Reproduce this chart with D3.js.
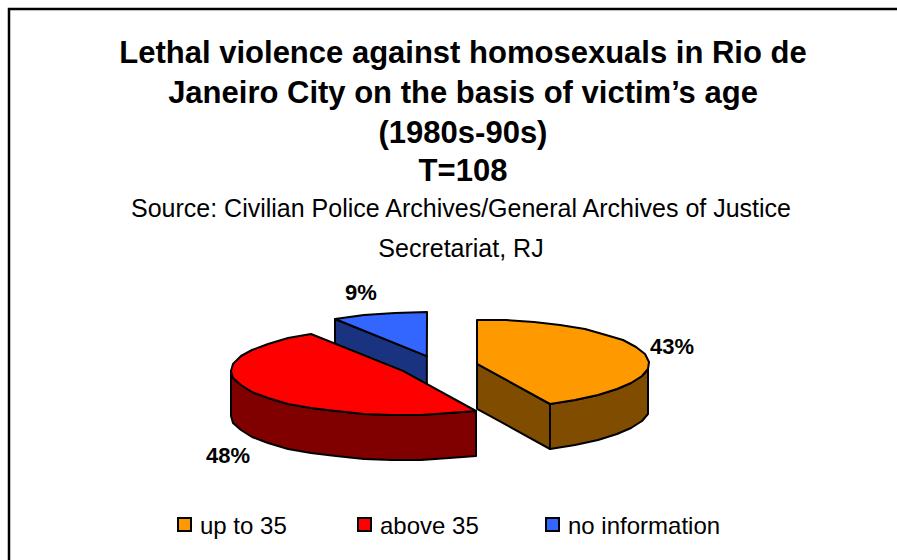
<!DOCTYPE html>
<html><head><meta charset="utf-8">
<script src="https://cdn.jsdelivr.net/npm/d3@7"></script>
<style>html,body{margin:0;padding:0;background:#fff}svg{display:block}text{font-family:"Liberation Sans",Arial,sans-serif;fill:#000}</style>
</head><body><svg id="c" width="897" height="560"></svg>
<script>
const categories = ["up to 35","above 35","no information"];
const values = [43,48,9];
const valueLabels = ["43%","48%","9%"];
const topColors = ["#FF9900","#FF0000","#3366FF"];
const sideColors = ["#804D00","#800000","#1A3380"];
const titleLines = ["Lethal violence against homosexuals in Rio de","Janeiro City on the basis of victim’s age","(1980s-90s)","T=108"];
const sourceLines = ["Source: Civilian Police Archives/General Archives of Justice","Secretariat, RJ"];

const svg = d3.select("#c");
svg.append("path").attr("d","M9,560V9H897").attr("fill","none").attr("stroke","#000").attr("stroke-width",2.5);

const titleY = [63,103,143,181];
titleLines.forEach((t,i)=>svg.append("text").attr("x",463).attr("y",titleY[i]).attr("text-anchor","middle").attr("font-weight","bold").attr("font-size",31).text(t));
const srcY = [217,257];
sourceLines.forEach((t,i)=>svg.append("text").attr("x",461).attr("y",srcY[i]).attr("text-anchor","middle").attr("font-size",25).text(t));

// 3D pie projection
const cx=438, cy=366, rx=172, ry=44, depth=45, explode=40;
const arcs = d3.pie().sort(null).value(d=>d)(values);
const px = d3.scaleLinear().domain([-1,1]).range([cx-rx,cx+rx]);
const py = d3.scaleLinear().domain([-1,1]).range([cy-ry,cy+ry]);
const proj = (a,r,off)=>[px(r*Math.sin(a)+off.x), py(-r*Math.cos(a)+off.y)];
const line = d3.line();
const rim = (a0,a1,off)=>{
  const n=Math.max(2,Math.round((a1-a0)/0.17));
  return d3.range(n+1).map(i=>{const a=a0+(a1-a0)*i/n;const p=proj(a,1,off);return [Math.round(p[0]),Math.round(p[1])];});
};
const down = pts=>pts.map(p=>[p[0],p[1]+depth]);
const g = svg.append("g").attr("stroke","#000").attr("stroke-width",2).attr("stroke-linejoin","round");
[2,0,1].forEach(i=>{
  const d=arcs[i], mid=(d.startAngle+d.endAngle)/2;
  const off={x:explode/rx*Math.sin(mid), y:-explode/rx*Math.cos(mid)};
  const c=proj(0,0,off);
  const r=rim(d.startAngle,d.endAngle,off);
  const side=sideColors[i];
  const wallPt = i===0 ? r[r.length-1] : r[0];
  if(i!==1){
    g.append("path").attr("d",line([c,wallPt,[wallPt[0],wallPt[1]+depth],[c[0],c[1]+depth]])+"Z").attr("fill",side);
  }
  const front=r.filter((p,k)=>{const a=d.startAngle+(d.endAngle-d.startAngle)*k/(r.length-1);return Math.cos(a)<=0.02;});
  if(front.length>1) g.append("path").attr("d",line(front.concat(down(front).reverse()))+"Z").attr("fill",side);
  g.append("path").attr("d",line([c,...r])+"Z").attr("fill",topColors[i]);
});

const labelPos=[[672,354],[228,463],[361,300]];
valueLabels.forEach((t,i)=>svg.append("text").attr("x",labelPos[i][0]).attr("y",labelPos[i][1]).attr("text-anchor","middle").attr("font-weight","bold").attr("font-size",22).text(t));

const legX=[178,358,546], legTextX=[200,380,568];
categories.forEach((t,i)=>{
  svg.append("rect").attr("x",legX[i]).attr("y",518).attr("width",13).attr("height",13).attr("fill",topColors[i]).attr("stroke","#000").attr("stroke-width",2);
  svg.append("text").attr("x",legTextX[i]).attr("y",534).attr("font-size",24).text(t);
});
</script></body></html>
